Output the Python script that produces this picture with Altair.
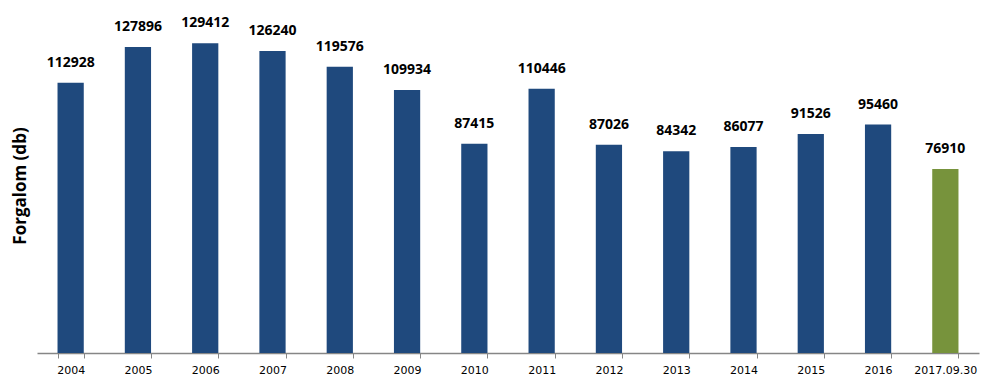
import altair as alt
import pandas as pd

years = ["2004", "2005", "2006", "2007", "2008", "2009", "2010", "2011",
         "2012", "2013", "2014", "2015", "2016", "2017.09.30"]
values = [112928, 127896, 129412, 126240, 119576, 109934, 87415, 110446,
          87026, 84342, 86077, 91526, 95460, 76910]
kinds = ["full"] * 13 + ["partial"]

df = pd.DataFrame({"year": years, "value": values, "kind": kinds})

base = alt.Chart(df).encode(
    x=alt.X("year:N", sort=years, title=None,
            scale=alt.Scale(paddingInner=0.61, paddingOuter=0.305),
            axis=alt.Axis(tickBand="extent", labelAngle=0, labelFontSize=11,
                          labelFont="DejaVu Sans", labelColor="#000000",
                          domainColor="#868686", tickColor="#868686",
                          tickSize=5, labelPadding=6, domainWidth=1.5)),
    y=alt.Y("value:Q", title="Forgalom (db)",
            scale=alt.Scale(domain=[0, 140000], nice=False),
            axis=alt.Axis(labels=False, ticks=False, domain=False, grid=False,
                          titleFontSize=17, titleFont="Open Sans",
                          titleFontWeight="bold", titleColor="#000000",
                          titleBaseline="bottom", titleX=-8)),
)

bars = base.mark_bar().encode(
    color=alt.Color("kind:N",
                    scale=alt.Scale(domain=["full", "partial"],
                                    range=["#1F497D", "#77933C"]),
                    legend=None)
)

labels = base.mark_text(baseline="bottom", dy=-13, fontSize=14,
                        font="Open Sans", fontWeight="bold",
                        color="#000000").encode(text="value:Q")

chart = (bars + labels).properties(
    width=942, height=335,
    autosize=alt.AutoSizeParams(type="none"),
    padding={"left": 29, "top": 10, "right": 10, "bottom": 28},
).configure_view(stroke=None)

chart.save("out.html", embed_options={"renderer": "svg", "actions": False})
